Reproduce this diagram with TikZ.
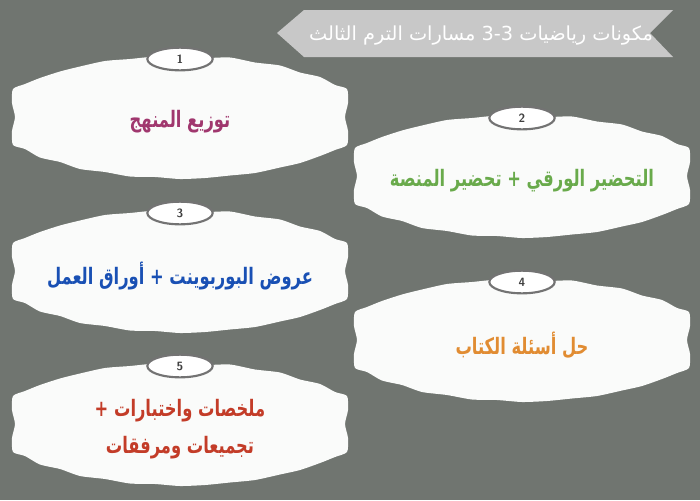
\documentclass[tikz,border=0pt]{standalone}
\usepackage{fontspec}
\usepackage{graphicx}
\usetikzlibrary{shapes.geometric}
\newfontfamily\arabicfont[Script=Arabic]{DejaVu Sans}
\TeXXeTstate=1
\definecolor{bggray}{RGB}{112,117,112}
\definecolor{blobwhite}{RGB}{250,251,250}
\definecolor{ribbongray}{RGB}{200,200,200}
\definecolor{ringgray}{RGB}{115,115,115}
\definecolor{plum}{RGB}{160,55,110}
\definecolor{leafgreen}{RGB}{105,170,75}
\definecolor{royalblue}{RGB}{25,80,180}
\definecolor{amber}{RGB}{225,140,50}
\definecolor{brickred}{RGB}{195,60,40}
\tikzstyle{blob}=[fill=blobwhite]
\tikzstyle{blobtext}=[align=center, inner sep=0pt, font=\arabicfont\bfseries\fontsize{17}{28}\selectfont]
\tikzstyle{numring}=[ellipse, fill=white, draw=ringgray, line width=1.6pt, minimum width=49pt, minimum height=17pt, inner sep=0pt, text=black!75, font=\sffamily\bfseries\fontsize{9}{9}\selectfont]
\tikzstyle{titletext}=[text=white, inner sep=0pt, font=\arabicfont\fontsize{14.5}{16}\selectfont]
\newcommand{\artext}[1]{\scalebox{0.72}[1]{\beginR #1\endR}}
\newcommand{\drawblob}[6]
{
  \fill[blob, shift={(#2,#3)}] plot[smooth cycle, tension=0.4] coordinates {
    (0,-61) (25,-59) (50,-59.5) (75,-54.5) (100,-51.5) (120,-44.5) (140,-40) (155,-32) (167,-28)
    (168,-14) (165,0) (168,14) (167,28)
    (155,33) (140,39) (120,46) (100,50.5) (75,56) (50,58.5) (25,61) (0,62)
    (-25,60) (-50,59.5) (-75,55) (-100,52) (-120,45) (-140,40.5) (-155,32) (-167,28)
    (-168,14) (-165,0) (-168,-14) (-167,-28)
    (-155,-33) (-140,-39) (-120,-45.5) (-100,-50.5) (-75,-56) (-50,-58) (-25,-60.5)};
  \node[blobtext, text=#5] (#1) at (#2,#3+5) {#6};
  \node[numring] (#1num) at (#2,#3-58) {#4};
}

\begin{document}
\begin{tikzpicture}[x=0.75pt, y=-0.75pt]
	\fill[bggray] (0,0) rectangle (700,500);
	\useasboundingbox (0,0) rectangle (700,500);

	% title ribbon
	\fill[ribbongray] (277,33) -- (304,10) -- (673,10) -- (650,33) -- (673,57) -- (304,57) -- cycle;
	\node[titletext] (title) at (481,36) {\beginR مكونات رياضيات \beginL3-3\endL{} مسارات الترم الثالث\endR};

	\drawblob{curriculum}{180}{117}{1}{plum}{\artext{توزيع المنهج}}
	\drawblob{preparation}{522}{176}{2}{leafgreen}{\artext{التحضير الورقي + تحضير المنصة}}
	\drawblob{slides}{180}{271}{3}{royalblue}{\artext{عروض البوربوينت + أوراق العمل}}
	\drawblob{exercises}{522}{340}{4}{amber}{\artext{حل أسئلة الكتاب}}
	\drawblob{summaries}{180}{424}{5}{brickred}{\artext{ملخصات واختبارات +}\\\artext{تجميعات ومرفقات}}

\end{tikzpicture}
\end{document}
